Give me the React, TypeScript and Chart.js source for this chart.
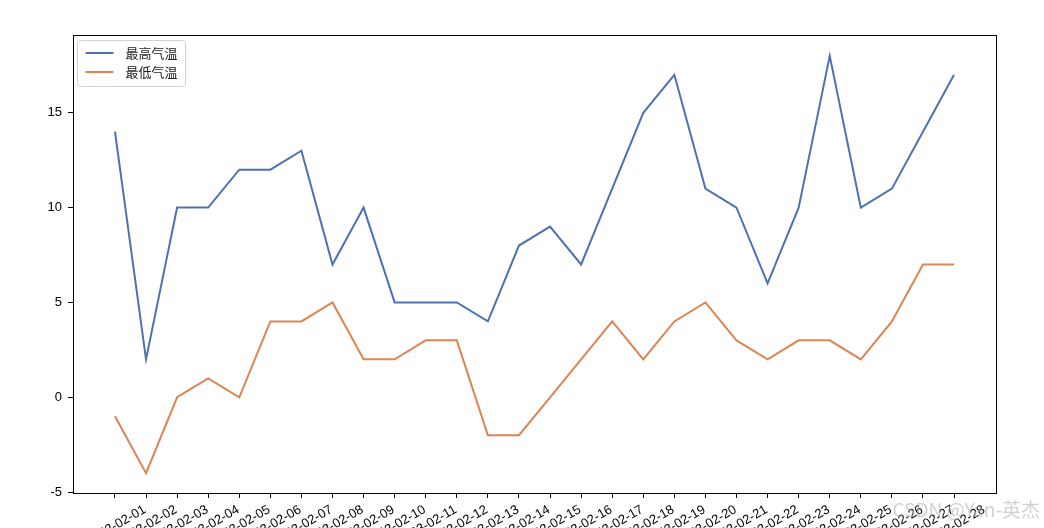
import React, { useEffect, useRef } from "react";
import { Chart, registerables } from "chart.js";

Chart.register(...registerables);

const dates = [
  "2023-02-01", "2023-02-02", "2023-02-03", "2023-02-04", "2023-02-05", "2023-02-06", "2023-02-07",
  "2023-02-08", "2023-02-09", "2023-02-10", "2023-02-11", "2023-02-12", "2023-02-13", "2023-02-14",
  "2023-02-15", "2023-02-16", "2023-02-17", "2023-02-18", "2023-02-19", "2023-02-20", "2023-02-21",
  "2023-02-22", "2023-02-23", "2023-02-24", "2023-02-25", "2023-02-26", "2023-02-27", "2023-02-28",
];
const highTemps = [14, 2, 10, 10, 12, 12, 13, 7, 10, 5, 5, 5, 4, 8, 9, 7, 11, 15, 17, 11, 10, 6, 10, 18, 10, 11, 14, 17];
const lowTemps = [-1, -4, 0, 1, 0, 4, 4, 5, 2, 2, 3, 3, -2, -2, 0, 2, 4, 2, 4, 5, 3, 2, 3, 3, 2, 4, 7, 7];
const seriesNames = ["最高气温", "最低气温"];
const seriesColors = ["#4c72b0", "#dd8452"];
const yTickValues = [-5, 0, 5, 10, 15];
const watermark = "CSDN @Yan-英杰";

const CANVAS_W = 1044;
const CANVAS_H = 600;
const AREA_LEFT = 73;
const AREA_TOP = 35;
const AREA_RIGHT = 996;
const AREA_BOTTOM = 494;

const tickFont = { family: "'Liberation Sans', Arial, sans-serif", size: 13 };

const decorPlugin = {
  id: "decor",
  afterDatasetsDraw(chart: any) {
    const { ctx, chartArea: a } = chart;
    ctx.save();
    // frame
    ctx.strokeStyle = "#000";
    ctx.lineWidth = 1;
    ctx.strokeRect(Math.round(a.left) + 0.5, Math.round(a.top) + 0.5, Math.round(a.right - a.left), Math.round(a.bottom - a.top) - 1);

    // legend
    const bx = a.left + 4.5;
    const by = a.top + 5.5;
    const bw = 108;
    const bh = 46;
    ctx.fillStyle = "rgba(255,255,255,0.8)";
    ctx.strokeStyle = "#d0d0d0";
    ctx.beginPath();
    (ctx as any).roundRect(bx, by, bw, bh, 3);
    ctx.fill();
    ctx.stroke();
    const ds = chart.data.datasets;
    ds.forEach((d: any, i: number) => {
      const y = by + 12.5 + i * 19;
      ctx.strokeStyle = d.borderColor;
      ctx.lineWidth = 2;
      ctx.beginPath();
      ctx.moveTo(bx + 8, y);
      ctx.lineTo(bx + 36, y);
      ctx.stroke();
      ctx.fillStyle = "#222";
      ctx.font = "13px 'Noto Sans CJK SC', sans-serif";
      ctx.textBaseline = "middle";
      ctx.textAlign = "left";
      ctx.fillText(d.label, bx + 48, y);
    });
    ctx.restore();
  },
  afterDraw(chart: any) {
    const { ctx } = chart;
    ctx.save();
    ctx.fillStyle = "rgba(170,170,170,0.55)";
    ctx.font = "19px 'Noto Sans CJK SC', sans-serif";
    ctx.textAlign = "right";
    ctx.textBaseline = "middle";
    ctx.fillText(watermark, 1040, 510);
    ctx.restore();
  },
};

export default function App() {
  const canvasRef = useRef<HTMLCanvasElement | null>(null);

  useEffect(() => {
    if (!canvasRef.current) return;
    const chart = new Chart(canvasRef.current, {
      type: "line",
      data: {
        datasets: [
          {
            label: seriesNames[0],
            data: highTemps.map((v, i) => ({ x: i, y: v })),
            borderColor: seriesColors[0],
            backgroundColor: seriesColors[0],
            borderWidth: 2,
            pointRadius: 0,
            tension: 0,
            fill: false,
          },
          {
            label: seriesNames[1],
            data: lowTemps.map((v, i) => ({ x: i, y: v })),
            borderColor: seriesColors[1],
            backgroundColor: seriesColors[1],
            borderWidth: 2,
            pointRadius: 0,
            tension: 0,
            fill: false,
          },
        ],
      },
      options: {
        responsive: false,
        animation: false,
        maintainAspectRatio: false,
        layout: { padding: { left: 0, top: AREA_TOP, right: CANVAS_W - AREA_RIGHT, bottom: 0 } },
        plugins: { legend: { display: false }, tooltip: { enabled: false } },
        scales: {
          x: {
            type: "linear",
            min: -1.35,
            max: dates.length - 1 + 1.35,
            afterBuildTicks: (s: any) => {
              s.ticks = dates.map((_, i) => ({ value: i }));
            },
            afterFit: (s: any) => {
              s.height = CANVAS_H - AREA_BOTTOM;
            },
            grid: { drawOnChartArea: false, drawTicks: true, tickLength: 4, color: "#000" },
            border: { display: false },
            ticks: {
              autoSkip: false,
              minRotation: 30,
              maxRotation: 30,
              padding: 4,
              labelOffset: 30,
              color: "#000",
              font: tickFont,
              callback: (v: any) => dates[v as number],
            },
          },
          y: {
            type: "linear",
            min: -5.1,
            max: 19.1,
            afterBuildTicks: (s: any) => {
              s.ticks = yTickValues.map((v) => ({ value: v }));
            },
            afterFit: (s: any) => {
              s.width = AREA_LEFT;
            },
            grid: { drawOnChartArea: false, drawTicks: true, tickLength: 5, color: "#000" },
            border: { display: false },
            ticks: { padding: 6, color: "#000", font: tickFont },
          },
        },
      },
      plugins: [decorPlugin],
    });
    return () => chart.destroy();
  }, []);

  return (
    <div style={{ position: "absolute", left: 0, top: 0, width: CANVAS_W, height: 528, overflow: "hidden", background: "#fff" }}>
      <canvas ref={canvasRef} width={CANVAS_W} height={CANVAS_H} style={{ width: CANVAS_W, height: CANVAS_H, display: "block" }} />
    </div>
  );
}
